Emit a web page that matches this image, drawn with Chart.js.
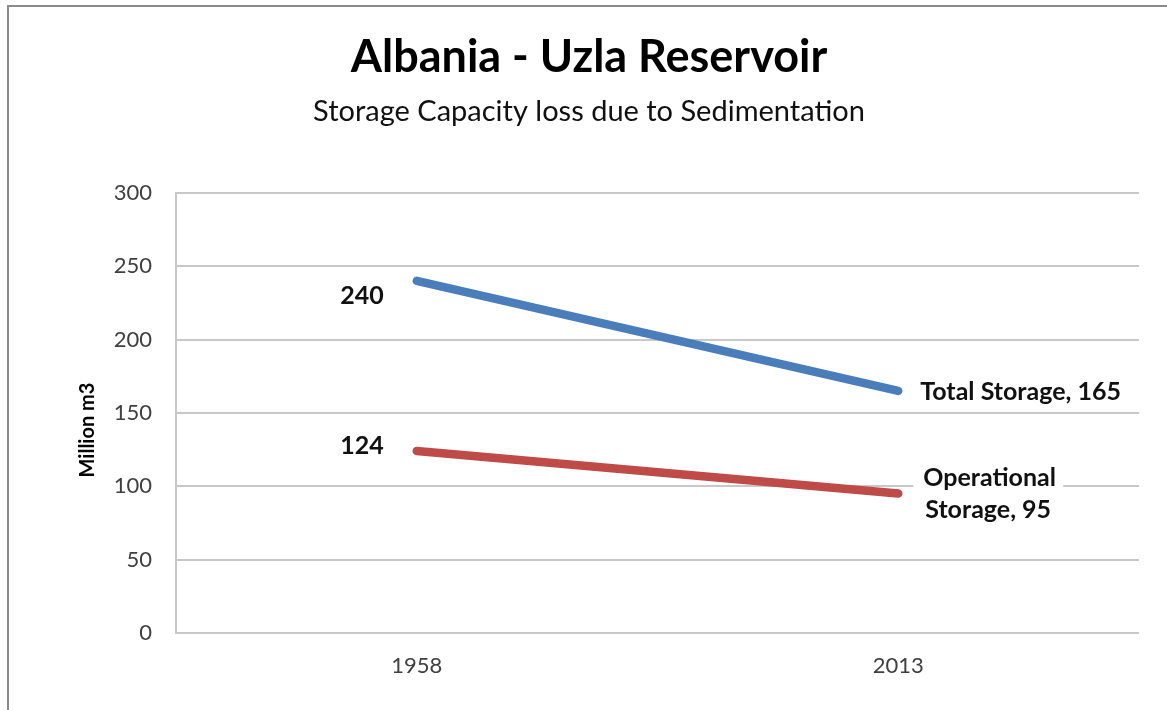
<!DOCTYPE html>
<html>
<head>
<meta charset="utf-8">
<script src="https://cdn.jsdelivr.net/npm/chart.js@4.4.1/dist/chart.umd.min.js"></script>
<style>
  html, body { margin: 0; padding: 0; background: #fff; }
  #wrap { position: relative; width: 1167px; height: 710px; overflow: hidden; }
  #frame { position: absolute; left: 7px; top: 5px; width: 1200px; height: 800px; border-top: 2px solid #8a8a8a; border-left: 2px solid #8a8a8a; box-sizing: border-box; }
  canvas { position: absolute; left: 0; top: 0; }
</style>
</head>
<body>
<div id="wrap">
  <div id="frame"></div>
  <canvas id="c" width="1167" height="710"></canvas>
</div>
<script>
const categories = ['1958', '2013'];
const totalStorage = [240, 165];
const operationalStorage = [124, 95];
const yTicks = [0, 50, 100, 150, 200, 250, 300];
const seriesNames = ['Total Storage', 'Operational Storage'];
const yAxisTitle = 'Million m3';

const FONT = "Lato, 'Open Sans', sans-serif";

const labelPlugin = {
  id: 'pointLabels',
  afterDatasetsDraw(chart) {
    const ctx = chart.ctx;
    ctx.save();
    ctx.font = "bold 25px " + FONT;
    ctx.fillStyle = '#111';
    ctx.textBaseline = 'middle';
    const m0 = chart.getDatasetMeta(0).data;
    const m1 = chart.getDatasetMeta(1).data;
    const d0 = chart.data.datasets[0].data;
    const d1 = chart.data.datasets[1].data;
    ctx.textAlign = 'right';
    ctx.fillText(String(d0[0]), m0[0].x - 33, m0[0].y + 15);
    ctx.fillText(String(d1[0]), m1[0].x - 33, m1[0].y - 5);
    ctx.textAlign = 'left';
    ctx.fillText(seriesNames[0] + ', ' + d0[1], m0[1].x + 22, m0[1].y + 1);
    const x = m1[1].x + 24, y = m1[1].y;
    ctx.fillStyle = '#fff';
    ctx.fillRect(x - 9, y - 34, 150, 68);
    ctx.fillStyle = '#111';
    ctx.fillText('Operational', x + 1, y - 16);
    ctx.fillText('Storage, ' + d1[1], x + 3, y + 16);
    ctx.save();
    ctx.translate(88, 430);
    ctx.rotate(-Math.PI / 2);
    ctx.textAlign = 'center';
    ctx.font = "bold 20px " + FONT;
    ctx.fillStyle = '#000';
    ctx.fillText(yAxisTitle, 0, 0);
    ctx.restore();
    ctx.restore();
  }
};

new Chart(document.getElementById('c'), {
  type: 'line',
  data: {
    labels: categories,
    datasets: [
      { label: seriesNames[0], data: totalStorage, borderColor: '#4a7ebb', backgroundColor: '#4a7ebb', borderWidth: 8.5, pointRadius: 0, borderCapStyle: 'round', tension: 0 },
      { label: seriesNames[1], data: operationalStorage, borderColor: '#be4b48', backgroundColor: '#be4b48', borderWidth: 8.5, pointRadius: 0, borderCapStyle: 'round', tension: 0 }
    ]
  },
  options: {
    responsive: false,
    animation: false,
    devicePixelRatio: 1,
    layout: { padding: { left: 39, right: 28, top: 0, bottom: 0 } },
    plugins: {
      legend: { display: false },
      tooltip: { enabled: false },
      title: {
        display: true,
        text: 'Albania - Uzla Reservoir',
        color: '#000',
        font: { family: FONT, size: 45, weight: 'bold' },
        padding: { top: 30, bottom: 0 }
      },
      subtitle: {
        display: true,
        text: 'Storage Capacity loss due to Sedimentation',
        color: '#111',
        font: { family: FONT, size: 29 },
        padding: { top: 10, bottom: 64 }
      }
    },
    scales: {
      x: {
        offset: true,
        grid: { display: false, drawTicks: false },
        border: { display: false },
        ticks: { color: '#404040', font: { family: FONT, size: 22 }, padding: 20 },
        afterFit(s) { s.height = 77; }
      },
      y: {
        min: 0, max: 300,
        afterBuildTicks(s) { s.ticks = yTicks.map(v => ({ value: v })); },
        grid: { color: '#c8c8c8', lineWidth: 2, drawTicks: false },
        border: { display: true, color: '#c8c8c8', width: 2 },
        ticks: { color: '#404040', font: { family: FONT, size: 22 }, padding: 24 },
        title: { display: false },
        afterFit(s) { s.width = 137; }
      }
    }
  },
  plugins: [labelPlugin]
});
</script>
</body>
</html>
